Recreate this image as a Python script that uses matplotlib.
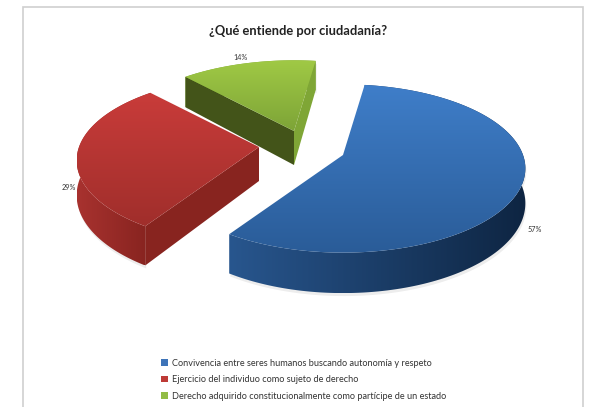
import numpy as np
import matplotlib
matplotlib.use("Agg")
import matplotlib.pyplot as plt
from matplotlib.colors import LinearSegmentedColormap
from matplotlib.patches import Patch, Polygon, Rectangle

title = "¿Qué entiende por ciudadanía?"
categories = [
    "Convivencia entre seres humanos buscando autonomía y respeto",
    "Ejercicio del individuo como sujeto de derecho",
    "Derecho adquirido constitucionalmente como partícipe de un estado",
]
values = [57, 29, 14]
value_labels = ["57%", "29%", "14%"]

legend_colors = ["#3E74B8", "#BE3A36", "#92BC45"]
top_colors = [("#3F7EC9", "#2A5C98"), ("#C93C3A", "#A02E2B"), ("#A0C945", "#7DA437")]
side_colors = [("#28568E", "#0E2542"), ("#A8322F", "#86231F"), ("#7EA535", "#7EA535")]
start_cut_colors = ["#1F4470", "#88241F", "#435419"]
end_cut_colors = ["#1F4470", "#88241F", "#7FA636"]

# screen position of each exploded slice apex, pixels
apex = [(343, 155), (259, 147), (294, 131)]
label_pos = [(535, 229), (69, 188), (241, 57)]

radius = 180
squash = 82
persp = 0.16
depth = 34
start_angle = 82


def project(theta, cx, cy):
    x = np.cos(theta)
    y = np.sin(theta)
    w = 1 + persp * y
    return cx + radius * x / w, cy - squash * y / w, depth / w


def gradient_fill(ax, pts, colors, vertical=True, zorder=2):
    pts = np.array(pts)
    patch = Polygon(pts, closed=True, facecolor="none", edgecolor="none", zorder=zorder)
    ax.add_patch(patch)
    cmap = LinearSegmentedColormap.from_list("g", colors)
    grad = np.linspace(0, 1, 256)
    grad = grad.reshape(-1, 1) if vertical else grad.reshape(1, -1)
    im = ax.imshow(grad, cmap=cmap, aspect="auto", zorder=zorder, origin="upper",
                   extent=(pts[:, 0].min(), pts[:, 0].max(), pts[:, 1].max(), pts[:, 1].min()))
    im.set_clip_path(patch)


fig = plt.figure(figsize=(5.91, 4.07), dpi=100)
ax = fig.add_axes([0, 0, 1, 1])

# chart frame
ax.add_patch(Rectangle((22.5, 6.5), 560, 420, facecolor="white", edgecolor="#CFCFCF", linewidth=1.2, zorder=0))

fractions = np.array(values) / np.sum(values)
starts = np.deg2rad(start_angle) - 2 * np.pi * np.concatenate(([0], np.cumsum(fractions)[:-1]))
ends = starts - 2 * np.pi * fractions

for i in [2, 1, 0]:
    cx, cy = apex[i]
    thetas = np.linspace(starts[i], ends[i], 160)
    px, py, pd = project(thetas, cx, cy)

    # outer wall
    wall = list(zip(px, py)) + list(zip(px[::-1], (py + pd)[::-1]))

    # soft shadow below the outer wall
    ax.add_patch(Polygon(np.array(wall) + [1, 3], closed=True, facecolor="#000000",
                         alpha=0.07, edgecolor="none", zorder=1))
    gradient_fill(ax, wall, side_colors[i], vertical=False)

    # cut faces, only those turned toward the viewer
    if np.cos(starts[i]) < 0:
        ax.add_patch(Polygon([(cx, cy), (px[0], py[0]), (px[0], py[0] + pd[0]), (cx, cy + depth)],
                             closed=True, facecolor=start_cut_colors[i], edgecolor="none", zorder=3))
    if -np.cos(ends[i]) < 0:
        ax.add_patch(Polygon([(cx, cy), (px[-1], py[-1]), (px[-1], py[-1] + pd[-1]), (cx, cy + depth)],
                             closed=True, facecolor=end_cut_colors[i], edgecolor="none", zorder=3))

    # top face
    top = [(cx, cy)] + list(zip(px, py))
    gradient_fill(ax, top, top_colors[i], vertical=True, zorder=4)

    ax.text(label_pos[i][0], label_pos[i][1], value_labels[i], fontsize=5.2, family="Lato",
            color="#333333", ha="center", va="center", zorder=5)

ax.text(298, 31, title, fontsize=9.3, fontweight="bold", family="Lato", color="#222222",
        ha="center", va="center")

handles = [Patch(facecolor=c, edgecolor="none") for c in legend_colors]
ax.legend(handles, categories, loc="upper left", bbox_to_anchor=(161 / 591, 1 - 358.5 / 407),
          frameon=False, prop={"family": "Lato", "size": 6.6}, labelcolor="#333333",
          handlelength=0.75, handleheight=0.75, handletextpad=0.45, labelspacing=0.83,
          borderpad=0, borderaxespad=0)

ax.set_xlim(0, 591)
ax.set_ylim(407, 0)
ax.axis("off")
fig.savefig("out.png", dpi=100, facecolor="white")
